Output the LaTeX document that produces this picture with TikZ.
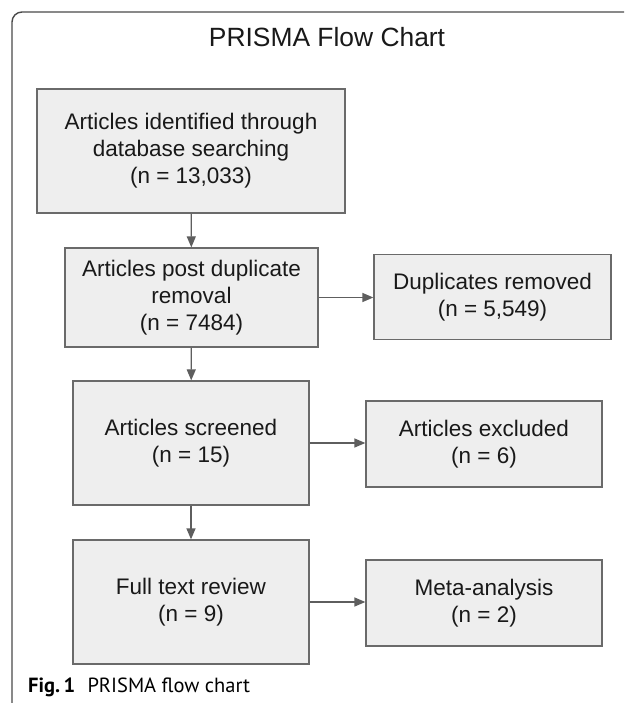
\documentclass[tikz,border=0pt]{standalone}
\usepackage{fontspec}
\setmainfont{Liberation Sans}
\newfontfamily\capfont{PT Sans}
\usetikzlibrary{arrows.meta}
\definecolor{boxfill}{HTML}{EEEEEE}
\definecolor{boxline}{HTML}{6A6A6A}
\definecolor{arrowcol}{HTML}{5E5E5E}
\definecolor{framecol}{HTML}{4A4A4A}
\tikzset{
  flowbox/.style={draw=boxline, fill=boxfill, line width=1.3pt, inner sep=0pt,
    align=center, font=\fontsize{22.5}{27}\selectfont, text=black!90},
  flowarrow/.style={draw=arrowcol, line width=1.3pt, -{Triangle[length=11pt,width=9pt]}},
}
\begin{document}
\begin{tikzpicture}[x=1pt,y=-1pt]
\useasboundingbox (0,0) rectangle (624,703);
\fill[white] (0,0) rectangle (624,703);
% frame
\draw[framecol, line width=1.4pt, rounded corners=10pt] (624,12) -- (12,12) -- (12,703);
% title
\node[anchor=base, font=\fontsize{26.4}{30}\selectfont, text=black!90] (title) at (327,47) {PRISMA Flow Chart};
% boxes
\node[flowbox, minimum width=308pt, minimum height=124pt] (b1) at (191,151) {Articles identified through\\database searching\\(n = 13,033)};
\node[flowbox, minimum width=253pt, minimum height=99pt] (b2) at (191.5,297.5) {Articles post duplicate\\removal\\(n = 7484)};
\node[flowbox, minimum width=237pt, minimum height=85pt] (dup) at (492.5,297) {Duplicates removed\\(n = 5,549)};
\node[flowbox, minimum width=236pt, minimum height=124pt] (b3) at (191,443) {Articles screened\\(n = 15)};
\node[flowbox, minimum width=236pt, minimum height=86pt] (excl) at (484,444) {Articles excluded\\(n = 6)};
\node[flowbox, minimum width=236pt, minimum height=124pt] (b4) at (191,602) {Full text review\\(n = 9)};
\node[flowbox, minimum width=236pt, minimum height=86pt] (meta) at (484,603) {Meta-analysis\\(n = 2)};
% arrows
\draw[flowarrow] (b1) -- (b2);
\draw[flowarrow] (b2) -- (b3);
\draw[flowarrow] (b3) -- (b4);
\draw[flowarrow] (b2.east) -- (dup.west |- b2.east);
\draw[flowarrow] (b3.east) -- (excl.west |- b3.east);
\draw[flowarrow] (b4.east) -- (meta.west |- b4.east);
% caption
\node[anchor=base west, inner sep=0pt, font=\capfont\fontsize{20.5}{24}\selectfont] (cap) at (28,692) {\textbf{Fig.\,1}\hspace{0.6em}PRISMA flow chart};
\end{tikzpicture}
\end{document}
